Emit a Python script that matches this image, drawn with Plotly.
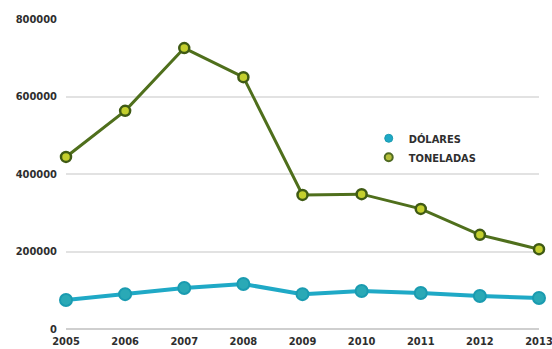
import plotly.graph_objects as go

years = [2005, 2006, 2007, 2008, 2009, 2010, 2011, 2012, 2013]
dolares = [75000, 90000, 106000, 116000, 90000, 98000, 93000, 85000, 80000]
toneladas = [444000, 563000, 725000, 650000, 346000, 348000, 310000, 243000, 206000]
y_ticks = [0, 200000, 400000, 600000, 800000]

font_family = "DejaVu Sans Condensed, Liberation Sans Narrow, sans-serif"
text_color = "#2e2e2e"

dol_line = "#1fa9c6"
dol_marker = dict(size=12, color="#2aa9b6", line=dict(color="#1a9bb0", width=2))
ton_line = "#4f6f1c"
ton_marker = dict(size=10, color="#c3cf2e", line=dict(color="#3f5a14", width=2.5))

fig = go.Figure()
fig.add_trace(go.Scatter(
    x=years, y=dolares, name="DÓLARES", mode="lines+markers",
    line=dict(color=dol_line, width=4), marker=dol_marker,
    cliponaxis=False, showlegend=False,
))
fig.add_trace(go.Scatter(
    x=years, y=toneladas, name="TONELADAS", mode="lines+markers",
    line=dict(color=ton_line, width=3), marker=ton_marker,
    cliponaxis=False, showlegend=False,
))
# legend entries show only the marker symbol
fig.add_trace(go.Scatter(
    x=[None], y=[None], name="DÓLARES", mode="markers",
    marker=dict(size=8, color="#1fa9c6", line=dict(color="#1a9bb0", width=1)),
))
fig.add_trace(go.Scatter(
    x=[None], y=[None], name="TONELADAS", mode="markers",
    marker=dict(size=8, color="#b5bf3a", line=dict(color="#4f6a22", width=2)),
))

fig.update_layout(
    width=552, height=349,
    margin=dict(l=66, r=13, t=19, b=20, autoexpand=False),
    paper_bgcolor="white", plot_bgcolor="white",
    font=dict(family=font_family, size=11, color=text_color, weight="bold"),
    showlegend=True,
    legend=dict(
        x=0.64, y=0.662, xanchor="left", yanchor="top",
        bgcolor="rgba(0,0,0,0)", font=dict(size=11, color=text_color),
        tracegroupgap=0, itemwidth=30,
    ),
    xaxis=dict(
        range=[2005, 2013], tickmode="array", tickvals=years,
        ticktext=[str(y) for y in years], showgrid=False, zeroline=False,
        showline=False, ticks="", ticklabelstandoff=4, automargin=False,
        ticklabeloverflow="allow",
        tickfont=dict(size=11, color=text_color),
    ),
    yaxis=dict(
        range=[0, 800000], tickmode="array", tickvals=y_ticks,
        ticktext=[str(v) for v in y_ticks], showgrid=True,
        gridcolor="#e2e2e2", gridwidth=1.5, zeroline=True,
        zerolinecolor="#cfcfcf", zerolinewidth=1.5, showline=False,
        ticks="", ticklabelstandoff=8, automargin=False,
        tickfont=dict(size=11, color=text_color),
    ),
)

fig.write_html("out.html")
